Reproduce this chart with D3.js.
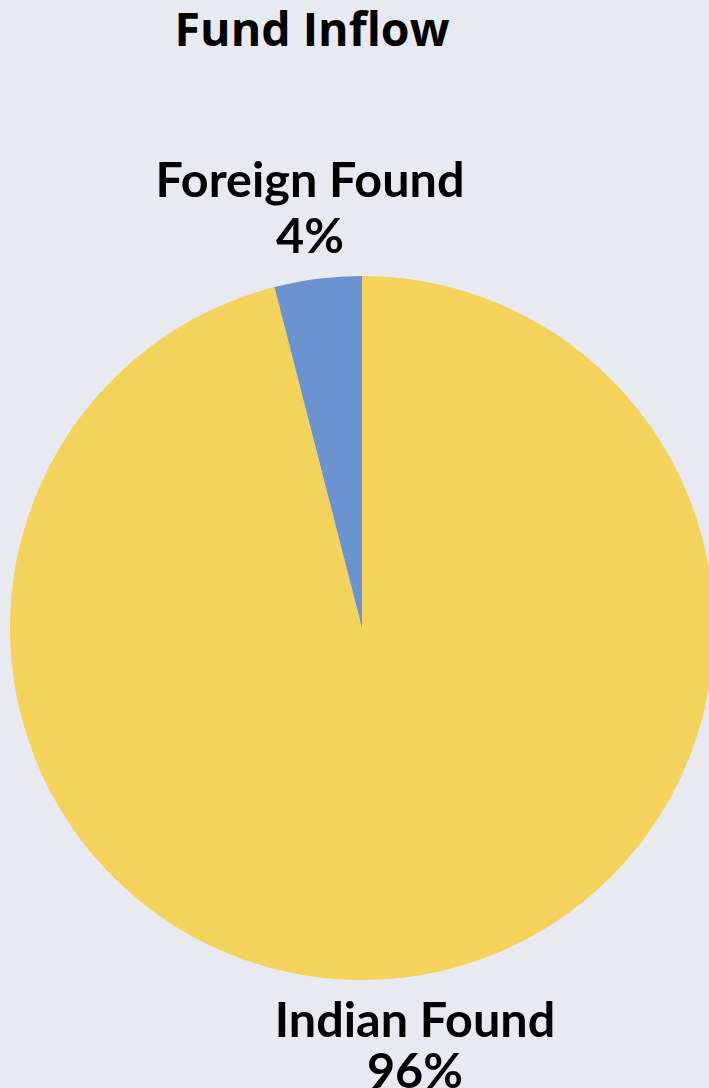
<!DOCTYPE html>
<html>
<head>
<meta charset="utf-8">
<script src="https://cdn.jsdelivr.net/npm/d3@7"></script>
<style>
  body { margin: 0; background: #e9eaf1; }
  svg { display: block; }
</style>
</head>
<body>
<svg id="chart" width="709" height="1088"></svg>
<script>
const categories = ["Indian Found", "Foreign Found"];
const shares = [96, 4];
const colours = ["#f3d35b", "#6a93d0"];

const data = categories.map((name, i) => ({ name, value: shares[i] }));

const svg = d3.select("#chart");
const dims = { radius: 352 };
const center = { x: 362, y: 628 };

svg.append("text")
  .attr("x", 312)
  .attr("y", 46)
  .attr("text-anchor", "middle")
  .attr("font-family", "Open Sans")
  .attr("font-weight", 700)
  .attr("font-size", 46.5)
  .text("Fund Inflow");

const pieGraph = svg.append("g")
  .attr("transform", `translate(${center.x}, ${center.y})`);

const pie = d3.pie().sort(null).value((d) => d.value);
const arcPath = d3.arc().outerRadius(dims.radius).innerRadius(0);
const colour = d3.scaleOrdinal().domain(categories).range(colours);

pieGraph.selectAll("path")
  .data(pie(data))
  .enter()
  .append("path")
  .attr("d", arcPath)
  .attr("fill", (d) => colour(d.data.name));

// labels
const labelPos = [
  { x: 415, y: 1037, gap: 51 },
  { x: 310, y: 197, gap: 56 }
];

const labels = svg.selectAll("g.label")
  .data(data)
  .enter()
  .append("g")
  .attr("class", "label")
  .attr("font-family", "Lato")
  .attr("font-weight", 700)
  .attr("font-size", 48.5)
  .attr("text-anchor", "middle");

labels.append("text")
  .attr("x", (d, i) => labelPos[i].x)
  .attr("y", (d, i) => labelPos[i].y)
  .text((d) => d.name);

labels.append("text")
  .attr("x", (d, i) => labelPos[i].x)
  .attr("y", (d, i) => labelPos[i].y + labelPos[i].gap)
  .text((d) => d.value + "%");
</script>
</body>
</html>
